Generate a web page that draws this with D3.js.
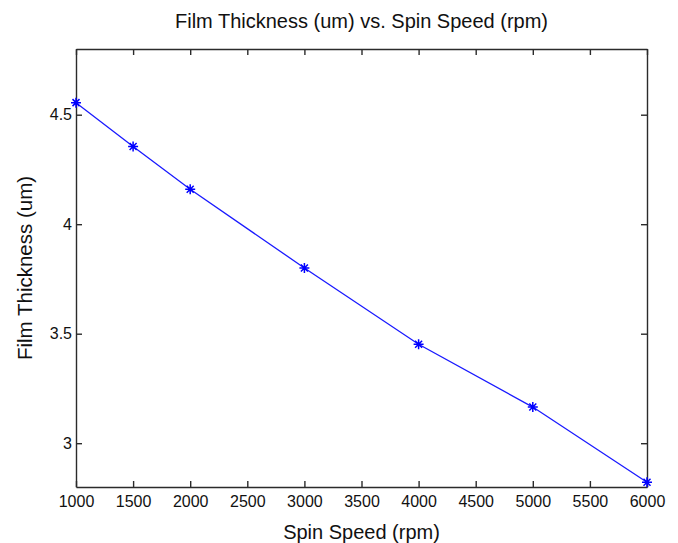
<!DOCTYPE html>
<html>
<head>
<meta charset="utf-8">
<script src="https://cdn.jsdelivr.net/npm/d3@7"></script>
<style>
  body { margin: 0; background: #fff; }
  svg { display: block; }
</style>
</head>
<body>
<script>
const width = 678;
const height = 543;

// spin speed (rpm) and measured film thickness (um)
const speeds = [1000, 1500, 2000, 3000, 4000, 5000, 6000];
const thickness = [4.555, 4.355, 4.16, 3.80, 3.452, 3.165, 2.822];

const xTicks = [1000, 1500, 2000, 2500, 3000, 3500, 4000, 4500, 5000, 5500, 6000];
const yTicks = [3, 3.5, 4, 4.5];

const margin = { top: 49, right: 31, bottom: 56, left: 76 };

const x = d3.scaleLinear()
  .domain([1000, 6000])
  .range([margin.left, width - margin.right]);

const y = d3.scaleLinear()
  .domain([2.8, 4.8])
  .range([height - margin.bottom, margin.top]);

const svg = d3.select('body')
  .append('svg')
  .attr('width', width)
  .attr('height', height)
  .style('font-family', '"Liberation Sans", Arial, sans-serif');

const tickLen = 6;
const axisColor = '#2b2b2b';

// bottom axis (ticks point inward)
svg.append('g')
  .attr('transform', `translate(0,${y.range()[0]})`)
  .call(d3.axisBottom(x).tickValues(xTicks).tickSize(-tickLen).tickSizeOuter(0)
    .tickPadding(9).tickFormat(d3.format('d')));

// top axis, ticks only
svg.append('g')
  .attr('transform', `translate(0,${y.range()[1]})`)
  .call(d3.axisTop(x).tickValues(xTicks).tickSize(-tickLen).tickSizeOuter(0).tickFormat(''));

// left axis
svg.append('g')
  .attr('transform', `translate(${x.range()[0]},0)`)
  .call(d3.axisLeft(y).tickValues(yTicks).tickSize(-tickLen).tickSizeOuter(0)
    .tickPadding(4).tickFormat(d => d));

// right axis, ticks only
svg.append('g')
  .attr('transform', `translate(${x.range()[1]},0)`)
  .call(d3.axisRight(y).tickValues(yTicks).tickSize(-tickLen).tickSizeOuter(0).tickFormat(''));

svg.selectAll('.domain')
  .attr('stroke', axisColor)
  .attr('stroke-width', 1.4);
svg.selectAll('.tick line')
  .attr('stroke', axisColor)
  .attr('stroke-width', 1.4);
svg.selectAll('.tick text')
  .attr('fill', '#111')
  .style('font-size', '16px');

const data = speeds.map((s, i) => ({ s, t: thickness[i] }));

svg.append('path')
  .datum(data)
  .attr('fill', 'none')
  .attr('stroke', '#1a1aff')
  .attr('stroke-width', 1.3)
  .attr('d', d3.line().x(d => x(d.s)).y(d => y(d.t)));

// asterisk markers
const r = 5;
const star = `M${-r},0H${r}M0,${-r}V${r}M${-r * 0.7},${-r * 0.7}L${r * 0.7},${r * 0.7}M${-r * 0.7},${r * 0.7}L${r * 0.7},${-r * 0.7}`;
svg.append('g')
  .selectAll('path')
  .data(data)
  .join('path')
    .attr('transform', d => `translate(${x(d.s)},${y(d.t)})`)
    .attr('d', star)
    .attr('fill', 'none')
    .attr('stroke', '#0000ff')
    .attr('stroke-width', 1.5);

// title and axis labels
svg.append('text')
  .attr('x', (x.range()[0] + x.range()[1]) / 2)
  .attr('y', 28)
  .attr('text-anchor', 'middle')
  .style('font-size', '20px')
  .attr('fill', '#111')
  .text('Film Thickness (um) vs. Spin Speed (rpm)');

svg.append('text')
  .attr('x', (x.range()[0] + x.range()[1]) / 2)
  .attr('y', 539)
  .attr('text-anchor', 'middle')
  .style('font-size', '20px')
  .attr('fill', '#111')
  .text('Spin Speed (rpm)');

svg.append('text')
  .attr('transform', `translate(32,${(y.range()[0] + y.range()[1]) / 2}) rotate(-90)`)
  .attr('text-anchor', 'middle')
  .style('font-size', '20.5px')
  .attr('fill', '#111')
  .text('Film Thickness (um)');
</script>
</body>
</html>
